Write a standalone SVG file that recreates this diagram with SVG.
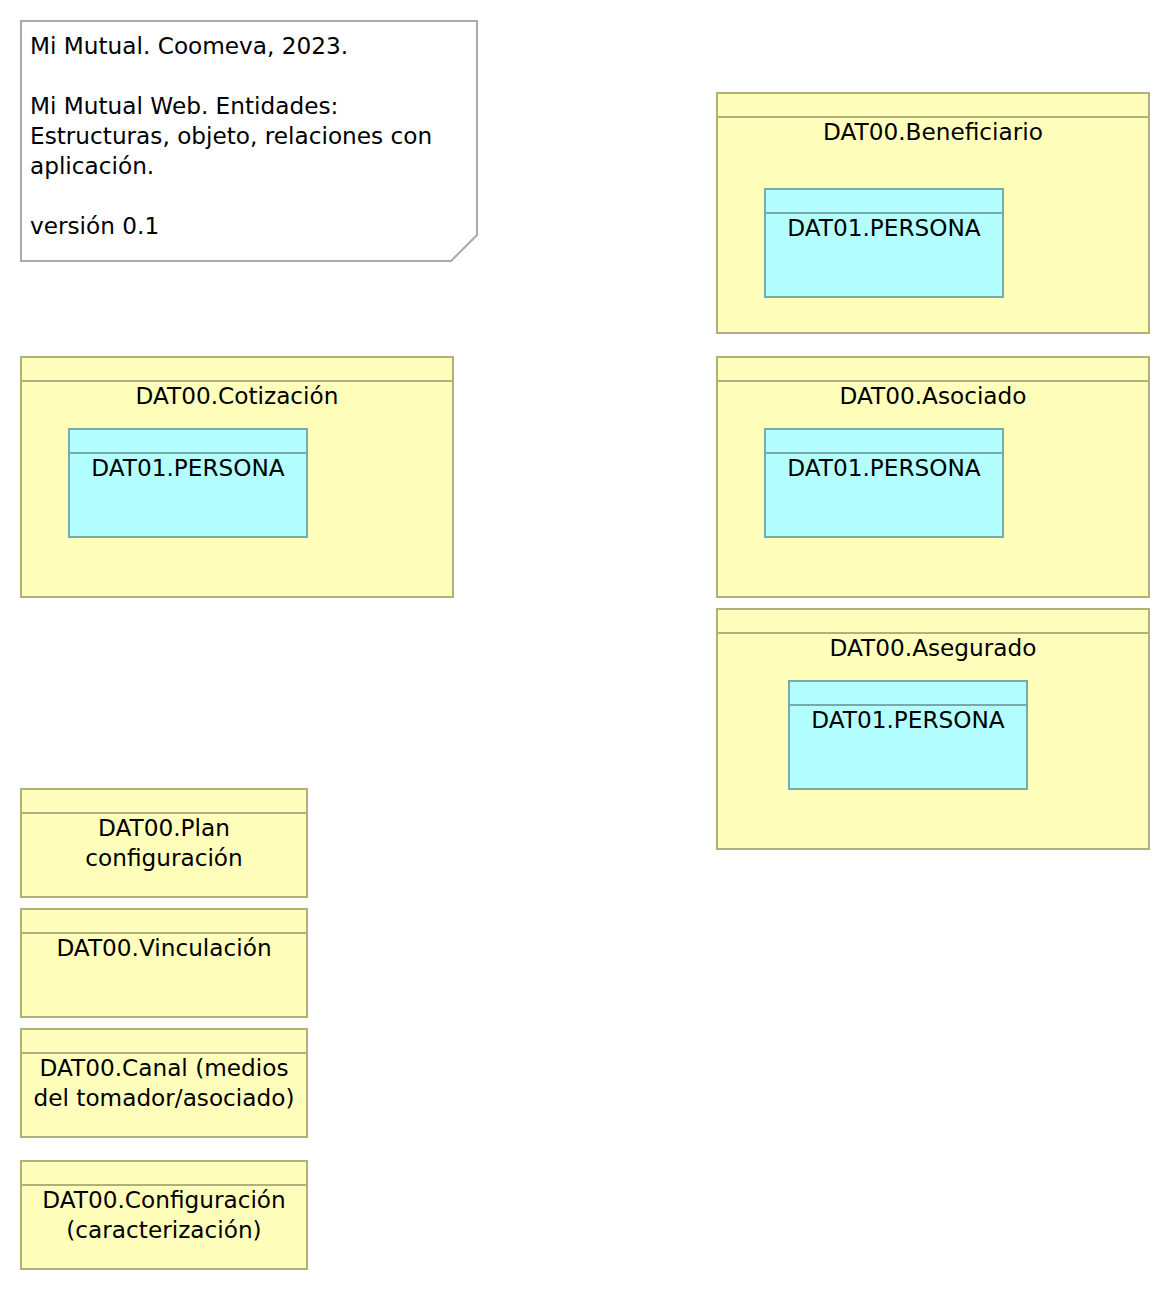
<svg xmlns="http://www.w3.org/2000/svg" width="1170" height="1290" viewBox="0 0 1170 1290">
<style>
text{font-family:"DejaVu Sans","Noto Sans",sans-serif;font-size:23.2px;fill:#000}
.c{text-anchor:middle}
.y{fill:#ffffbb;stroke:#b0b07a;stroke-width:2}
.b{fill:#b3ffff;stroke:#77aaaa;stroke-width:2}
.yl{stroke:#b0b07a;stroke-width:2}
.bl{stroke:#77aaaa;stroke-width:2}
.note{fill:#fff;stroke:#aaaaaa;stroke-width:2}
</style>
<rect width="1170" height="1290" fill="#fff"/>
<g id="note">
<path class="note" d="M21 21 H477 V235 L451 261 H21 Z"/>
<text x="30" y="54">Mi Mutual. Coomeva, 2023.</text>
<text x="30" y="114">Mi Mutual Web. Entidades:</text>
<text x="30" y="144">Estructuras, objeto, relaciones con</text>
<text x="30" y="174">aplicación.</text>
<text x="30" y="234">versión 0.1</text>
</g>
<g id="beneficiario">
<rect class="y" x="717" y="93" width="432" height="240"/>
<line class="yl" x1="717" y1="117" x2="1149" y2="117"/>
<text class="c" x="933" y="140">DAT00.Beneficiario</text>
<g id="persona1">
<rect class="b" x="765" y="189" width="238" height="108"/>
<line class="bl" x1="765" y1="213" x2="1003" y2="213"/>
<text class="c" x="884" y="236">DAT01.PERSONA</text>
</g>
</g>
<g id="cotizacion">
<rect class="y" x="21" y="357" width="432" height="240"/>
<line class="yl" x1="21" y1="381" x2="453" y2="381"/>
<text class="c" x="237" y="404">DAT00.Cotización</text>
<g id="persona2">
<rect class="b" x="69" y="429" width="238" height="108"/>
<line class="bl" x1="69" y1="453" x2="307" y2="453"/>
<text class="c" x="188" y="476">DAT01.PERSONA</text>
</g>
</g>
<g id="asociado">
<rect class="y" x="717" y="357" width="432" height="240"/>
<line class="yl" x1="717" y1="381" x2="1149" y2="381"/>
<text class="c" x="933" y="404">DAT00.Asociado</text>
<g id="persona3">
<rect class="b" x="765" y="429" width="238" height="108"/>
<line class="bl" x1="765" y1="453" x2="1003" y2="453"/>
<text class="c" x="884" y="476">DAT01.PERSONA</text>
</g>
</g>
<g id="asegurado">
<rect class="y" x="717" y="609" width="432" height="240"/>
<line class="yl" x1="717" y1="633" x2="1149" y2="633"/>
<text class="c" x="933" y="656">DAT00.Asegurado</text>
<g id="persona4">
<rect class="b" x="789" y="681" width="238" height="108"/>
<line class="bl" x1="789" y1="705" x2="1027" y2="705"/>
<text class="c" x="908" y="728">DAT01.PERSONA</text>
</g>
</g>
<g id="plan">
<rect class="y" x="21" y="789" width="286" height="108"/>
<line class="yl" x1="21" y1="813" x2="307" y2="813"/>
<text class="c" x="164" y="836">DAT00.Plan</text>
<text class="c" x="164" y="866">configuración</text>
</g>
<g id="vinculacion">
<rect class="y" x="21" y="909" width="286" height="108"/>
<line class="yl" x1="21" y1="933" x2="307" y2="933"/>
<text class="c" x="164" y="956">DAT00.Vinculación</text>
</g>
<g id="canal">
<rect class="y" x="21" y="1029" width="286" height="108"/>
<line class="yl" x1="21" y1="1053" x2="307" y2="1053"/>
<text class="c" x="164" y="1076">DAT00.Canal (medios</text>
<text class="c" x="164" y="1106">del tomador/asociado)</text>
</g>
<g id="configuracion">
<rect class="y" x="21" y="1161" width="286" height="108"/>
<line class="yl" x1="21" y1="1185" x2="307" y2="1185"/>
<text class="c" x="164" y="1208">DAT00.Configuración</text>
<text class="c" x="164" y="1238">(caracterización)</text>
</g>
<g id="connectors"/>
</svg>
